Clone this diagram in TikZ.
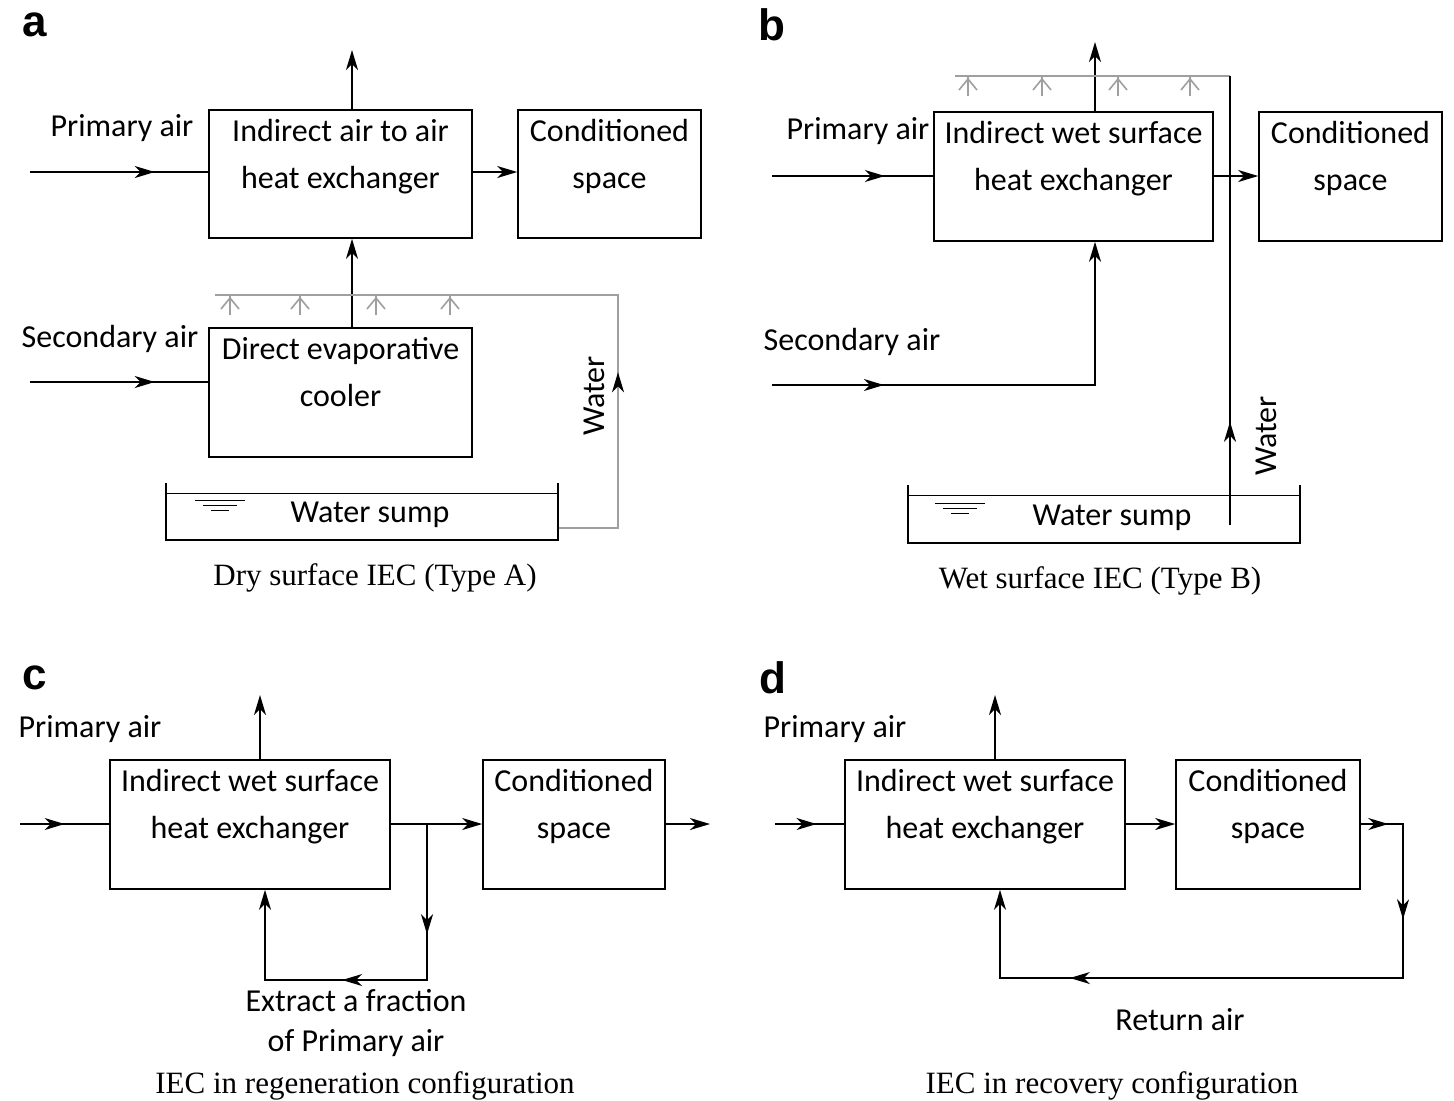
\documentclass[tikz,border=0pt]{standalone}
\usepackage{fontspec}
\setmainfont{Carlito}
\newfontfamily\capfont{Liberation Serif}
\newfontfamily\letfont{Liberation Sans}
\usetikzlibrary{arrows.meta,positioning,decorations.markings}
\tikzset{
  box/.style={draw,thick,minimum width=#1,inner sep=0pt},
  txt/.style={font=\fontsize{16}{23.5}\selectfont,align=center,inner sep=0pt},
  captxt/.style={font=\capfont\fontsize{15.5}{18}\selectfont,inner sep=0pt},
  let/.style={font=\letfont\bfseries\fontsize{22}{24}\selectfont,inner sep=0pt},
  tip/.style={-{Stealth[length=10pt,width=6pt,inset=3pt]}},
  mid/.style={postaction={decorate,decoration={markings,mark=at position #1 with {\arrow{Stealth[length=10pt,width=6pt,inset=3pt]}}}}},
  pipe/.style={gray!75,thick},
  line/.style={thick}
}
\newcommand{\sprinkler}[2]{%
  \draw[pipe] (#1,#2) -- (#1,#2+20);
  \draw[pipe] (#1-9,#2+14) -- (#1,#2+3) -- (#1+9,#2+14);}
\newcommand{\level}[2]{%
  \draw (#1-25,#2) -- (#1+25,#2);
  \draw (#1-17,#2+5) -- (#1+17,#2+5);
  \draw (#1-9,#2+10) -- (#1+9,#2+10);}
\begin{document}
\begin{tikzpicture}[x=0.5pt,y=-0.5pt]
\useasboundingbox (0,0) rectangle (1454,1100);

% panel a
\node[let] at (35,25) {a};
\node[box=131.5pt,minimum height=64pt] (ia) at (340.5,174) {};
\node[txt,below=5pt of ia.north] {Indirect air to air\\heat exchanger};
\node[box=91.5pt,minimum height=64pt] (ca) at (609.5,174) {};
\node[txt,below=5pt of ca.north] {Conditioned\\space};
\node[box=131.5pt,minimum height=64.5pt] (dec) at (340.5,392.5) {};
\node[txt,below=5pt of dec.north] {Direct evaporative\\cooler};
\node[txt] at (122,128) {Primary air};
\node[txt] at (110,339) {Secondary air};
\coordinate (pa) at (30,172);
\coordinate (sa) at (30,382);
\coordinate (outa) at (352,50);
\draw[line,mid=0.7] (pa) -- (pa -| ia.west);
\draw[line,mid=0.7] (sa) -- (sa -| dec.west);
\draw[line,tip] (ia.north -| outa) -- (outa);
\draw[line,tip] (ia.east |- pa) -- (ca.west |- pa);
\draw[line,tip] (dec.north -| outa) -- (ia.south -| outa);
\coordinate (pl) at (215,295);
\coordinate (pr) at (618,295);
\coordinate (sumpa) at (558,528);
\draw[pipe] (sumpa) -- (sumpa -| pr) -- (pr) -- (pl);
\draw[line,mid=0.31,draw=none] (sumpa) -- (sumpa -| pr) -- (pr) -- (pl);
\foreach \x in {230,300,376,450} {\sprinkler{\x}{295}}
\node[txt,rotate=90] at (594,396) {Water};
\draw[line] (166,483) -- (166,540) -- (558,540) -- (558,483);
\draw (166,493) -- (558,493);
\level{220}{500}
\node[txt] (wsa) at (370,515) {Water sump};
\node[captxt] at (375,578) {Dry surface IEC (Type A)};

% panel b
\node[let] at (772,25) {b};
\node[box=139.5pt,minimum height=64.5pt] (ib) at (1073.5,176.5) {};
\node[txt,below=5pt of ib.north] {Indirect wet surface\\heat exchanger};
\node[box=91.5pt,minimum height=64.5pt] (cb) at (1350.5,176.5) {};
\node[txt,below=5pt of cb.north] {Conditioned\\space};
\node[txt] at (858,131) {Primary air};
\node[txt] at (852,342) {Secondary air};
\coordinate (pb) at (772,176);
\coordinate (sb) at (772,385);
\coordinate (outb) at (1095,42);
\draw[line,mid=0.7] (pb) -- (pb -| ib.west);
\draw[line,tip] (ib.north -| outb) -- (outb);
\draw[line,tip] (ib.east |- pb) -- (cb.west |- pb);
\draw[line,mid=0.24,tip] (sb) -- (sb -| outb) -- (ib.south -| outb);
\coordinate (pt) at (1230,76);
\coordinate (sumpb) at (1230,525);
\draw[pipe] (955,76) -- (pt);
\draw[line,mid=0.23] (sumpb) -- (pt);
\foreach \x in {968,1042,1118,1190} {\sprinkler{\x}{76}}
\node[txt,rotate=90] at (1266,436) {Water};
\draw[line] (908,485) -- (908,543) -- (1300,543) -- (1300,485);
\draw (908,495) -- (1300,495);
\level{960}{503}
\node[txt] at (1112,518) {Water sump};
\node[captxt] at (1100,581) {Wet surface IEC (Type B)};

% panel c
\node[let] at (35,678) {c};
\node[box=140pt,minimum height=64.5pt] (ic) at (250,824.5) {};
\node[txt,below=5pt of ic.north] {Indirect wet surface\\heat exchanger};
\node[box=91pt,minimum height=64.5pt] (cc) at (574,824.5) {};
\node[txt,below=5pt of cc.north] {Conditioned\\space};
\node[txt] at (90,729) {Primary air};
\coordinate (pc) at (20,824);
\coordinate (outc) at (260,695);
\coordinate (endc) at (710,824);
\coordinate (brc) at (427,824);
\coordinate (dnc) at (427,980);
\coordinate (upc) at (265,980);
\draw[line,mid=0.5] (pc) -- (pc -| ic.west);
\draw[line,tip] (ic.north -| outc) -- (outc);
\draw[line,tip] (ic.east |- pc) -- (cc.west |- pc);
\draw[line,tip] (cc.east |- pc) -- (endc);
\draw[line,mid=0.27,mid=0.59,tip] (brc) -- (dnc) -- (upc) -- (ic.south -| upc);
\node[txt,font=\fontsize{16}{20}\selectfont] at (356,1023) {Extract a fraction\\of Primary air};
\node[captxt] at (365,1086) {IEC in regeneration configuration};

% panel d
\node[let] at (773,678) {d};
\node[box=140pt,minimum height=64.5pt] (id) at (985,824.5) {};
\node[txt,below=5pt of id.north] {Indirect wet surface\\heat exchanger};
\node[box=92pt,minimum height=64.5pt] (cd) at (1268,824.5) {};
\node[txt,below=5pt of cd.north] {Conditioned\\space};
\node[txt] at (835,729) {Primary air};
\coordinate (pd) at (775,824);
\coordinate (outd) at (995,695);
\coordinate (rd) at (1403,824);
\coordinate (bd) at (1403,978);
\coordinate (ld) at (1000,978);
\draw[line,mid=0.6] (pd) -- (pd -| id.west);
\draw[line,tip] (id.north -| outd) -- (outd);
\draw[line,tip] (id.east |- pd) -- (cd.west |- pd);
\draw[line,mid=0.04,mid=0.2,mid=0.77,tip] (cd.east |- pd) -- (rd) -- (bd) -- (ld) -- (id.south -| ld);
\node[txt] at (1180,1020) {Return air};
\node[captxt] at (1112,1086) {IEC in recovery configuration};
\end{tikzpicture}
\end{document}
